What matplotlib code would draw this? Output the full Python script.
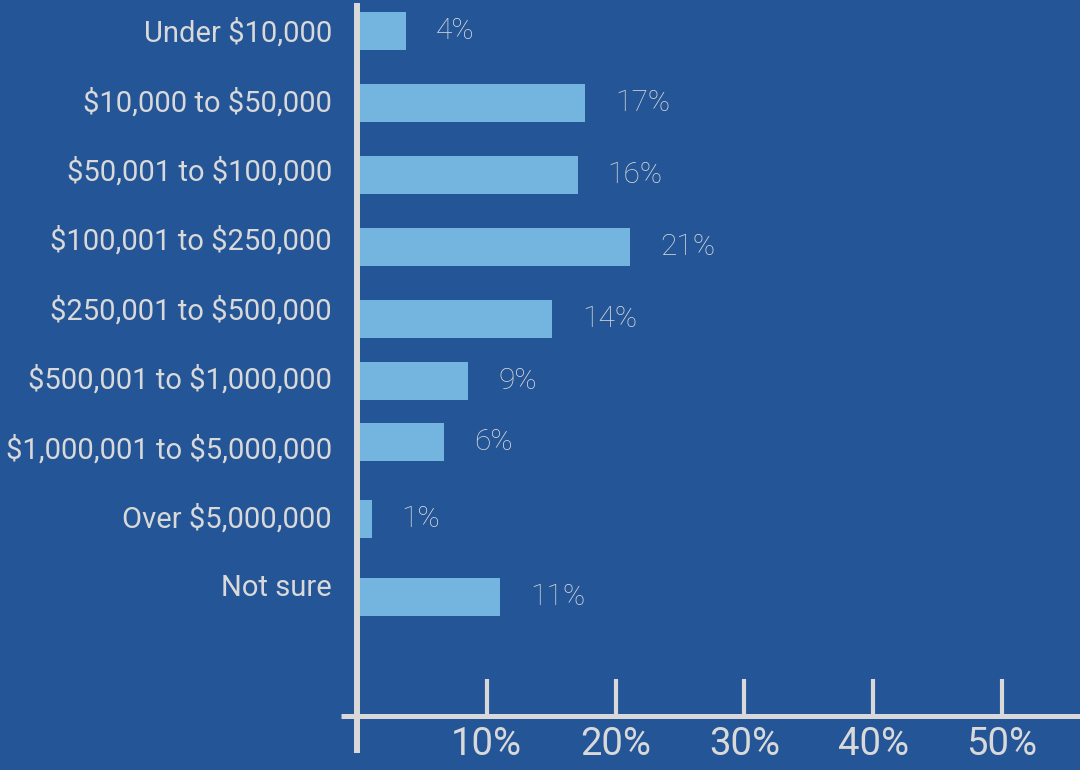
import matplotlib.pyplot as plt

# Survey answers (top to bottom)
categories = ["Under $10,000", "$10,000 to $50,000", "$50,001 to $100,000",
              "$100,001 to $250,000", "$250,001 to $500,000", "$500,001 to $1,000,000",
              "$1,000,001 to $5,000,000", "Over $5,000,000", "Not sure"]
labels = ["4%", "17%", "16%", "21%", "14%", "9%", "6%", "1%", "11%"]
# bar lengths as drawn in the picture (percent)
bar_values = [3.6, 17.5, 16.9, 21.0, 14.9, 8.4, 6.5, 0.9, 10.9]
xticks = [10, 20, 30, 40, 50]

# layout: small vertical shift of each bar relative to its label row
bar_shift = [-0.03, 0.01, 0.05, 0.08, 0.12, 0.01, -0.11, 0.0, 0.13]

bg = "#235597"
bar_color = "#74b5e0"
fg = "#d9d9d9"

plt.rcParams['font.family'] = ['Roboto', 'DejaVu Sans']
plt.rcParams['text.parse_math'] = False

fig = plt.figure(figsize=(10.8, 7.7), dpi=100, facecolor=bg)
ax = fig.add_axes([358 / 1080, 1 - 716 / 770, 1 - 358 / 1080, 716 / 770])
ax.set_facecolor(bg)

px_per_pct = 12.88
row_px = 69.4
ax.set_xlim(0, (1080 - 358) / px_per_pct)
ax.set_ylim((716 - 33) / row_px, -33 / row_px)

rows = list(range(len(categories)))
ypos = [r + s for r, s in zip(rows, bar_shift)]
ax.barh(ypos, bar_values, height=0.55, color=bar_color, left=0.15)

for y, v, lab in zip(ypos, bar_values, labels):
    ax.text(v + 0.15 + 30 / px_per_pct, y, lab, va="center", ha="left",
            color=fg, fontsize=21.5, fontweight="light")

for r, cat in zip(rows, categories):
    ax.text(-26 / px_per_pct, r, cat, va="center", ha="right", color=fg, fontsize=21)

for s in ax.spines.values():
    s.set_visible(False)

# axis lines
ax.plot([-0.08, -0.08], [-30 / row_px, (753 - 33) / row_px], color=fg, lw=4.3,
        clip_on=False, solid_capstyle="butt")
ax.plot([-17 / px_per_pct, (1080 - 358) / px_per_pct], [(716 - 33) / row_px] * 2,
        color=fg, lw=3.6, clip_on=False, solid_capstyle="butt")

ax.set_yticks([])
ax.set_xticks(xticks)
ax.set_xticklabels([f"{t}%" for t in xticks])
ax.tick_params(axis="x", direction="in", length=27, width=3, color=fg,
               labelcolor=fg, labelsize=27.5, pad=7)

fig.savefig("out.png", dpi=100, facecolor=bg)
